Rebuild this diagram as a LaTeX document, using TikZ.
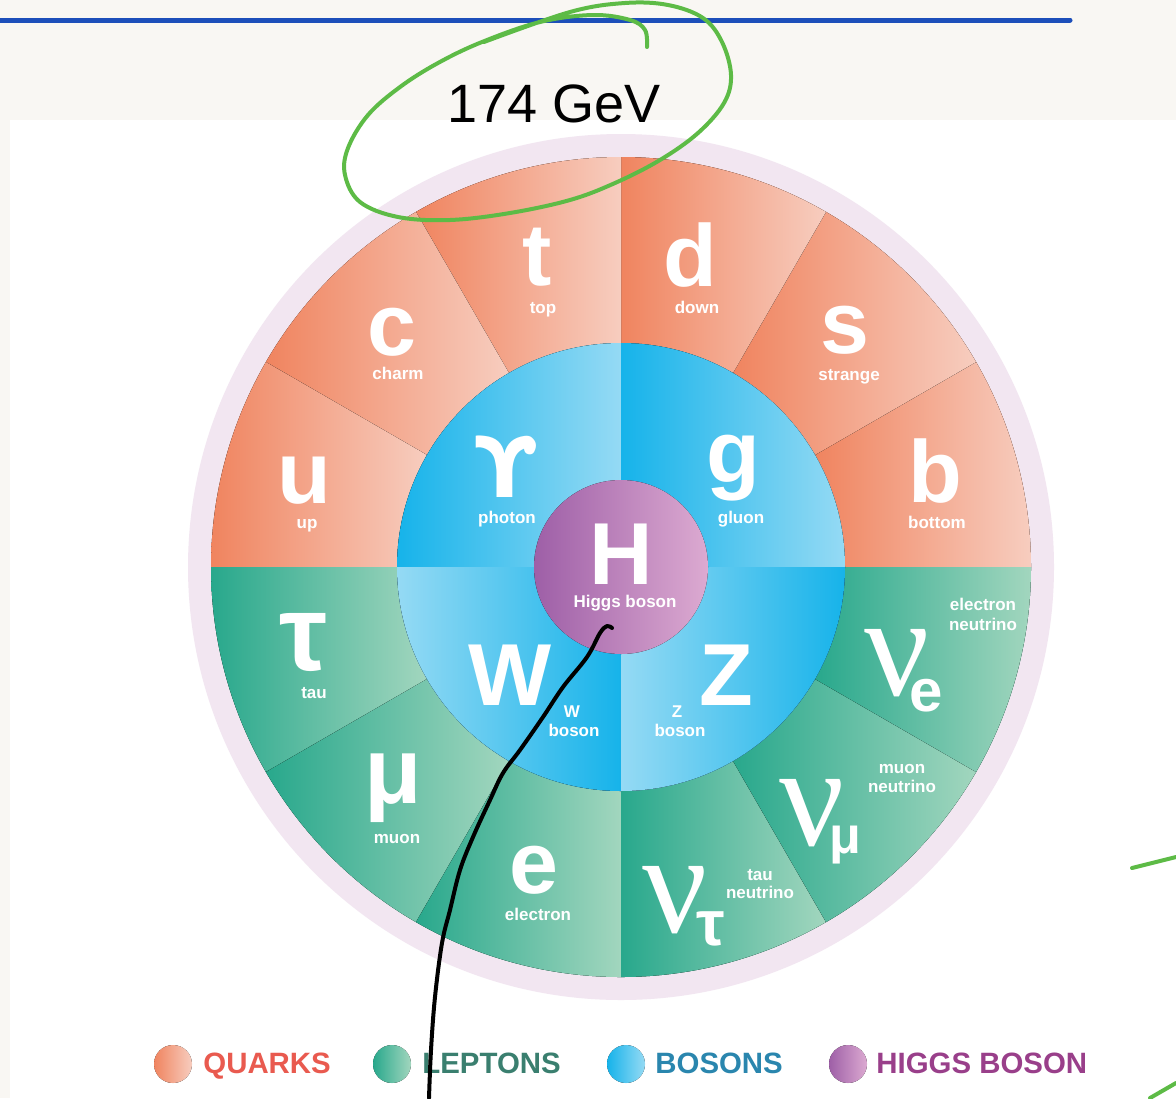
\documentclass[tikz,border=0pt]{standalone}
\usepackage{fontspec}
\setmainfont{Liberation Sans}
\newfontfamily\nufont{Liberation Serif}
\newfontfamily\upsfont{DejaVu Sans}
\definecolor{bgtop}{HTML}{F9F7F3}
\definecolor{topline}{HTML}{1D4FBA}
\definecolor{ringc}{HTML}{F2E6F1}
\definecolor{qd}{HTML}{F0845F}
\definecolor{ql}{HTML}{F7CDBF}
\definecolor{qm}{HTML}{F3A88F}
\definecolor{ld}{HTML}{28A88C}
\definecolor{ll}{HTML}{A2D6BE}
\definecolor{lm}{HTML}{62BFA4}
\definecolor{bd}{HTML}{16B3EA}
\definecolor{bli}{HTML}{95DAF4}
\definecolor{bm}{HTML}{55C6EF}
\definecolor{hd}{HTML}{9E5FA7}
\definecolor{hl}{HTML}{DCAAD1}
\definecolor{legq}{HTML}{E95A4F}
\definecolor{legl}{HTML}{3A7F6F}
\definecolor{legb}{HTML}{2A86AE}
\definecolor{legh}{HTML}{993F8A}
\definecolor{pen}{HTML}{5DBB46}
\tikzset{
  symb/.style={text=white, anchor=base, inner sep=0pt, font=\fontsize{44}{44}\selectfont\bfseries},
  lbl/.style={text=white, anchor=base, inner sep=0pt, font=\fontsize{8.5}{8.5}\selectfont\bfseries},
  nusym/.style={text=white, anchor=base, inner sep=0pt, font=\nufont\fontsize{72}{72}\selectfont},
  nusub/.style={text=white, anchor=base, inner sep=0pt, font=\fontsize{30}{30}\selectfont\bfseries},
  legtxt/.style={anchor=base west, inner sep=0pt, font=\fontsize{14.7}{14.7}\selectfont\bfseries},
  greenpen/.style={draw=pen, line width=2pt, line cap=round, line join=round},
  blackpen/.style={draw=black, line width=2pt, line cap=round, line join=round},
}
\begin{document}
\begin{tikzpicture}[x=0.5pt,y=-0.5pt]
\useasboundingbox (0,0) rectangle (1176,1098);
% background
\fill[bgtop] (0,0) rectangle (1176,1098);
\fill[white] (10,120) rectangle (1176,1098);
\draw[topline, line width=2.5pt, line cap=round] (0,20) -- (1070,20);

% wheel
\begin{scope}[shift={(621,567)}]
  \fill[ringc] (0,0) circle[radius=433];
  % base fills hide seams between sectors
  \fill[qm] (0:410) arc[start angle=0, end angle=-180, radius=410] -- cycle;
  \fill[lm] (-180:410) arc[start angle=-180, end angle=-360, radius=410] -- cycle;
  % quarks (visual angles 0..180)
  \foreach \a in {0,30,60,90,120,150}{
    \fill[left color=qd, right color=ql]
      (-\a:410) arc[start angle=-\a, end angle=-\a-30, radius=410]
      -- (-\a-30:224) arc[start angle=-\a-30, end angle=-\a, radius=224] -- cycle;
  }
  % leptons (visual angles 180..360)
  \foreach \a in {180,210,240,270,300,330}{
    \fill[left color=ld, right color=ll]
      (-\a:410) arc[start angle=-\a, end angle=-\a-30, radius=410]
      -- (-\a-30:224) arc[start angle=-\a-30, end angle=-\a, radius=224] -- cycle;
  }
  % bosons
  \fill[bm] (0,0) circle[radius=224];
  \fill[left color=bd, right color=bli] (0,0) -- (-90:224) arc[start angle=-90, end angle=-180, radius=224] -- cycle;
  \fill[left color=bd, right color=bli] (0,0) -- (0:224) arc[start angle=0, end angle=-90, radius=224] -- cycle;
  \fill[left color=bli, right color=bd] (0,0) -- (-180:224) arc[start angle=-180, end angle=-270, radius=224] -- cycle;
  \fill[left color=bli, right color=bd] (0,0) -- (-270:224) arc[start angle=-270, end angle=-360, radius=224] -- cycle;
  % Higgs
  \fill[left color=hd, right color=hl] (0,0) circle[radius=87];
\end{scope}

% quarks
\node[symb] (nt) at (537,285) {t};
\node[lbl] (ntl) at (543,313) {top};
\node[symb] (nc) at (392,355) {c};
\node[lbl] (ncl) at (398,379) {charm};
\node[symb] (nu) at (304,503) {u};
\node[lbl] (nul) at (307,528) {up};
\node[symb] (nd) at (690,286) {d};
\node[lbl] (ndl) at (697,313) {down};
\node[symb] (ns) at (845,353) {s};
\node[lbl] (nsl) at (849,380) {strange};
\node[symb] (nb) at (935,502) {b};
\node[lbl] (nbl) at (937,528) {bottom};
% bosons
\node[symb, font=\upsfont\fontsize{42}{42}\selectfont\bfseries] (ngam) at (506,497) {ϒ};
\node[lbl] (ngaml) at (507,523) {photon};
\node[symb] (ng) at (733,482) {g};
\node[lbl] (ngl) at (741,523) {gluon};
\node[symb] (nW) at (510,705) {W};
\node[lbl] (nWl1) at (572,717) {W};
\node[lbl] (nWl2) at (574,736) {boson};
\node[symb] (nZ) at (726,705) {Z};
\node[lbl] (nZl1) at (677,717) {Z};
\node[lbl] (nZl2) at (680,736) {boson};
\node[symb] (nH) at (621,584) {H};
\node[lbl] (nHl) at (625,607) {Higgs boson};
% leptons
\node[symb, font=\fontsize{54}{54}\selectfont\bfseries] (ntau) at (304,670) {τ};
\node[lbl] (ntaul) at (314,698) {tau};
\node[symb, font=\fontsize{47}{47}\selectfont\bfseries] (nmu) at (393,803) {μ};
\node[lbl] (nmul) at (397,843) {muon};
\node[symb] (ne) at (534,893) {e};
\node[lbl] (nel) at (538,920) {electron};
% neutrinos
\node[nusym] (nnue) at (897,695) {ν};
\node[nusub] (nnues) at (926,711) {e};
\node[lbl] (nnuel1) at (983,610) {electron};
\node[lbl] (nnuel2) at (983,630) {neutrino};
\node[nusym] (nnum) at (812,845) {ν};
\node[nusub, font=\fontsize{26}{26}\selectfont\bfseries] (nnums) at (845,853) {μ};
\node[lbl] (nnuml1) at (902,773) {muon};
\node[lbl] (nnuml2) at (902,792) {neutrino};
\node[nusym] (nnut) at (675,932) {ν};
\node[nusub, font=\fontsize{32}{32}\selectfont\bfseries] (nnuts) at (711,945) {τ};
\node[lbl] (nnutl1) at (760,880) {tau};
\node[lbl] (nnutl2) at (760,898) {neutrino};

% legend
\fill[left color=qd, right color=ql] (173,1064) circle[radius=19];
\node[legtxt, text=legq] (lq) at (203,1073) {QUARKS};
\fill[left color=ld, right color=ll] (392,1064) circle[radius=19];
\node[legtxt, text=legl] (lle) at (422,1073) {LEPTONS};
\fill[left color=bd, right color=bli] (626,1064) circle[radius=19];
\node[legtxt, text=legb] (lb) at (655,1073) {BOSONS};
\fill[left color=hd, right color=hl] (848,1064) circle[radius=19];
\node[legtxt, text=legh] (lh) at (876,1073) {HIGGS BOSON};

% handwritten annotations
\node[anchor=base west, inner sep=0pt, font=\fontsize{27}{27}\selectfont] (gev) at (447,122) {174 GeV};
\draw[greenpen] plot[smooth, tension=0.6] coordinates {
  (484,42) (570,12) (625,3) (668,5) (703,18) (722,42) (731,75) (724,103)
  (698,133) (660,160) (615,183) (570,200) (510,213) (450,220) (398,217)
  (360,202) (345,175) (348,148) (368,115) (400,87) (438,63) (482,42)
  (540,22) (593,15) (630,20) (645,30) (647,47)};
\coordinate (hstart) at (612,628);
\coordinate (hend) at (429,1098);
\draw[blackpen] plot[smooth, tension=0.6] coordinates {
  (hstart) (607,626) (600,633) (587,657) (563,687) (543,717) (520,750)
  (503,773) (490,800) (473,837) (460,870) (450,910) (442,943) (435,997)
  (431,1050) (hend)};
\coordinate (ga) at (1132,868);
\coordinate (gb) at (1176,857);
\draw[greenpen] (ga) -- (gb);
\coordinate (gc) at (1150,1098);
\coordinate (gd) at (1176,1083);
\draw[greenpen] (gc) -- (gd);
\end{tikzpicture}
\end{document}
